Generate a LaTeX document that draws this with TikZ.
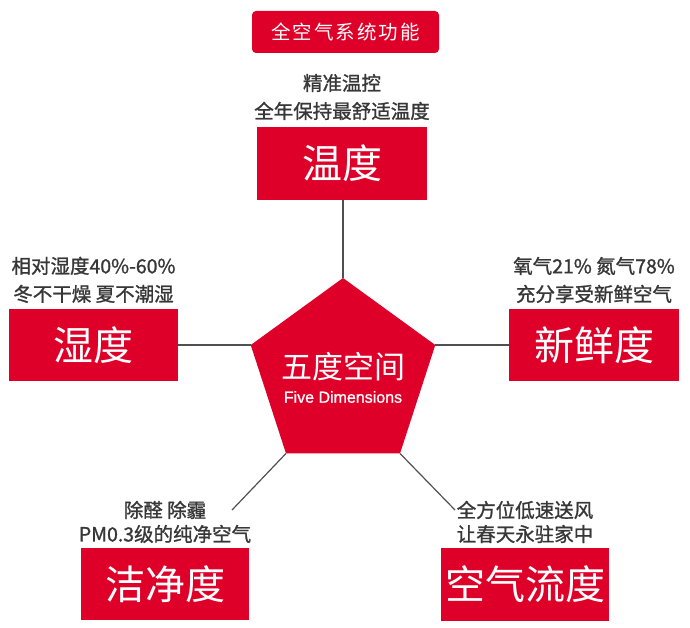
\documentclass[tikz,border=0pt]{standalone}
\usepackage{fontspec}
\setmainfont{Noto Sans CJK SC}
\newfontfamily\cjk{Noto Sans CJK SC}
\newfontfamily\cjkthick[FakeBold=1.2]{Noto Sans CJK SC}
\newfontfamily\cjkspaced[LetterSpace=10]{Noto Sans CJK SC}
\newfontfamily\latin[FakeBold=0.8]{Liberation Sans}
\usetikzlibrary{shapes.geometric,positioning}
\definecolor{hongse}{RGB}{222,0,41}
\definecolor{huise}{RGB}{55,55,55}
\definecolor{xianse}{RGB}{80,80,80}

\begin{document}
\begin{tikzpicture}
[x=1pt,y=-1pt%
,every node/.style={inner sep=0pt,outer sep=0pt}%
,hongkuang/.style={fill=hongse,text=white,%
                   minimum width=170pt,minimum height=73pt,%
                   font=\cjk\fontsize{40}{48}\selectfont}%
,shuoming/.style={text=huise,align=center,%
                  font=\cjkthick\fontsize{19.5}{28}\selectfont}%
,shuomingxia/.style={shuoming,%
                  font=\cjkthick\fontsize{19.5}{24}\selectfont}%
,lianxian/.style={draw=xianse,line width=1.2pt}]
\useasboundingbox (0,0) rectangle (690,628);
% title
\node[fill=hongse,rounded corners=4pt,text=white,%
      minimum width=187pt,minimum height=42pt,%
      font=\cjkspaced\fontsize{19.5}{24}\selectfont] (biaoti) at (345.5,32) {全空气系统功能};
% centre pentagon
\node[regular polygon,regular polygon sides=5,minimum size=194pt,fill=hongse] (wudu) at (343,375) {};
\node[text=white,font=\cjk\fontsize{31}{36}\selectfont] (wuduzi) at (343,367) {五度空间};
\node[text=white,font=\latin\fontsize{16}{18}\selectfont] (wuduen) at (343,397) {Five Dimensions};
% five boxes
\node[hongkuang] (wendu) at (342,163.5) {温度};
\node[hongkuang,minimum width=169pt,minimum height=72pt] (shidu) at (93.5,345) {湿度};
\node[hongkuang,minimum height=72pt] (xinxian) at (594,345) {新鲜度};
\node[hongkuang,minimum width=168pt,minimum height=72pt] (jiejing) at (165,584) {洁净度};
\node[hongkuang,minimum width=168pt] (liudu) at (525,584.5) {空气流度};
% texts above the boxes
\node[shuoming,above=7pt of wendu] (wenduzi) {精准温控\\全年保持最舒适温度};
\node[shuoming,above=6pt of shidu] (shiduzi) {相对湿度40\%-60\%\\冬不干燥 夏不潮湿};
\node[shuoming,above=6pt of xinxian] (xinxianzi) {氧气21\% 氮气78\%\\充分享受新鲜空气};
\node[shuomingxia,above=5pt of jiejing] (jiejingzi) {除醛 除霾\\PM0.3级的纯净空气};
\node[shuomingxia,above=5pt of liudu] (liuduzi) {全方位低速送风\\让春天永驻家中};
% connectors
\coordinate (jiejingduan) at (232,510);
\coordinate (liududuan) at (455,510);
\draw[lianxian] (wudu.corner 1) -- (wudu.corner 1 |- wendu.south);
\draw[lianxian] (wudu.corner 2) -- (wudu.corner 2 -| shidu.east);
\draw[lianxian] (wudu.corner 5) -- (wudu.corner 5 -| xinxian.west);
\draw[lianxian] (wudu.corner 3) -- (jiejingduan);
\draw[lianxian] (wudu.corner 4) -- (liududuan);
\end{tikzpicture}
\end{document}
